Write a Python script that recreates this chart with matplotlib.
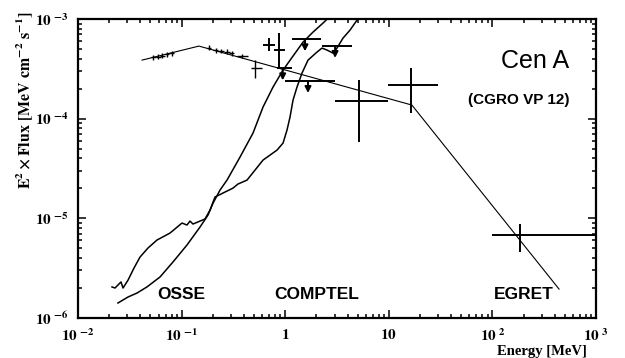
import numpy as np
import matplotlib
matplotlib.use("Agg")
import matplotlib.pyplot as plt
from matplotlib.ticker import LogLocator, FixedLocator, FixedFormatter, NullFormatter

plt.rcParams['mathtext.fontset'] = 'stix'
plt.rcParams['font.family'] = 'Liberation Serif'

# --- broken power-law model (E in MeV, E^2 F in MeV cm^-2 s^-1)
model_e = [0.0415, 0.147, 16.7, 440.0]
model_f = [3.87e-4, 5.35e-4, 1.37e-4, 1.95e-6]

# --- OSSE spectral points
osse_e    = [0.0530, 0.0592, 0.0647, 0.0723, 0.0808, 0.184, 0.215, 0.240, 0.274, 0.306, 0.383, 0.511]
osse_e_lo = [0.0501, 0.0560, 0.0612, 0.0684, 0.0764, 0.174, 0.203, 0.227, 0.259, 0.289, 0.340, 0.4625]
osse_e_hi = [0.0560, 0.0626, 0.0684, 0.0764, 0.0854, 0.194, 0.227, 0.254, 0.290, 0.323, 0.440, 0.597]
osse_f    = [4.12e-4, 4.20e-4, 4.28e-4, 4.42e-4, 4.52e-4, 5.14e-4, 4.88e-4, 4.77e-4, 4.69e-4, 4.52e-4, 4.25e-4, 3.19e-4]
osse_f_lo = [3.90e-4, 3.97e-4, 4.05e-4, 4.18e-4, 4.27e-4, 4.86e-4, 4.61e-4, 4.51e-4, 4.44e-4, 4.27e-4, 4.02e-4, 2.58e-4]
osse_f_hi = [4.36e-4, 4.44e-4, 4.53e-4, 4.68e-4, 4.78e-4, 5.44e-4, 5.16e-4, 5.04e-4, 4.96e-4, 4.78e-4, 4.50e-4, 3.87e-4]

# --- COMPTEL points
comptel_e    = [0.702, 0.877, 5.15, 16.4]
comptel_e_lo = [0.607, 0.780, 3.03, 9.89]
comptel_e_hi = [0.797, 0.996, 9.89, 30.1]
comptel_f    = [5.47e-4, 4.88e-4, 1.50e-4, 2.17e-4]
comptel_f_lo = [4.77e-4, 3.14e-4, 5.86e-5, 1.15e-4]
comptel_f_hi = [6.47e-4, 7.17e-4, 2.44e-4, 3.19e-4]

# --- COMPTEL upper limits
ul_e    = [0.946, 1.553, 3.03, 1.66]
ul_e_lo = [0.839, 1.155, 2.25, 0.996]
ul_e_hi = [1.155, 2.216, 4.38, 3.03]
ul_f    = [3.19e-4, 6.24e-4, 5.35e-4, 2.38e-4]

# --- EGRET point
egret_e, egret_e_lo, egret_e_hi = [184.5], [100.0], [1000.0]
egret_f, egret_f_lo, egret_f_hi = [6.80e-6], [4.62e-6], [8.77e-6]

# --- OSSE sensitivity curve (starts lower left)
sens1_e = [0.0243, 0.0304, 0.0371, 0.0463, 0.0619, 0.0826, 0.1127, 0.1506, 0.1799, 0.201,
           0.2348, 0.2744, 0.3664, 0.489, 0.6107, 0.7626, 0.953, 1.190, 1.486, 1.855, 2.317, 2.77]
sens1_f = [1.414e-6, 1.625e-6, 1.78e-6, 2.05e-6, 2.58e-6, 3.65e-6, 5.40e-6, 8.18e-6, 1.08e-5, 1.42e-5,
           1.92e-5, 2.42e-5, 4.12e-5, 7.17e-5, 1.307e-4, 2.075e-4, 3.07e-4, 4.25e-4, 5.86e-4, 7.39e-4, 9.10e-4, 1.09e-3]

# --- COMPTEL sensitivity curve
sens2_e = [0.02129, 0.02276, 0.0260, 0.0272, 0.0304, 0.0347, 0.0397, 0.0474, 0.0579, 0.0773,
           0.1009, 0.1127, 0.1205, 0.1288, 0.1506, 0.1682, 0.188, 0.210, 0.251, 0.3134,
           0.3503, 0.428, 0.6107, 0.834, 0.953, 1.041, 1.113, 1.190, 1.300, 1.453,
           1.661, 2.028, 2.266, 2.533, 2.894, 3.162, 3.614, 4.224, 4.934, 5.27]
sens2_f = [2.05e-6, 2.00e-6, 2.30e-6, 2.00e-6, 2.40e-6, 3.17e-6, 4.09e-6, 5.04e-6, 6.06e-6, 7.12e-6,
           8.97e-6, 8.57e-6, 9.39e-6, 8.77e-6, 9.39e-6, 9.84e-6, 1.21e-5, 1.636e-5, 1.795e-5, 2.01e-5,
           2.21e-5, 2.42e-5, 3.84e-5, 4.84e-5, 5.69e-5, 7.69e-5, 1.038e-4, 1.536e-4, 2.075e-4, 2.87e-4,
           3.87e-4, 4.66e-4, 5.11e-4, 4.88e-4, 4.55e-4, 5.11e-4, 6.43e-4, 7.74e-4, 9.75e-4, 1.07e-3]

x_ticks = [1e-2, 1e-1, 1, 10, 1e2, 1e3]
x_labels = [r'$\mathbf{10}^{\ \mathbf{-2}}$', r'$\mathbf{10}^{\ \mathbf{-1}}$', r'$\mathbf{1}$',
            r'$\mathbf{10}$', r'$\mathbf{10}^{\ \mathbf{2}}$', r'$\mathbf{10}^{\ \mathbf{3}}$']
y_ticks = [1e-6, 1e-5, 1e-4, 1e-3]
y_labels = [r'$\mathbf{10}^{\ \mathbf{-6}}$', r'$\mathbf{10}^{\ \mathbf{-5}}$',
            r'$\mathbf{10}^{\ \mathbf{-4}}$', r'$\mathbf{10}^{\ \mathbf{-3}}$']


def cross(ax, e, elo, ehi, f, flo, fhi, lw=1.3):
    e, f = np.array(e), np.array(f)
    xerr = [e - np.array(elo), np.array(ehi) - e]
    yerr = [f - np.array(flo), np.array(fhi) - f]
    ax.errorbar(e, f, xerr=xerr, yerr=yerr, fmt='none', ecolor='black',
                elinewidth=lw, capsize=0, zorder=3)


fig = plt.figure(figsize=(6.25, 3.58), dpi=100)
ax = fig.add_axes([0.1248, 0.1117, 0.8288, 0.8352])
ax.set_xscale('log')
ax.set_yscale('log')
ax.set_xlim(1e-2, 1e3)
ax.set_ylim(1e-6, 1e-3)

ax.plot(sens1_e, sens1_f, color='black', lw=1.1)
ax.plot(sens2_e, sens2_f, color='black', lw=1.1)
ax.plot(model_e, model_f, color='black', lw=0.8)

cross(ax, osse_e, osse_e_lo, osse_e_hi, osse_f, osse_f_lo, osse_f_hi, lw=1.0)
cross(ax, comptel_e, comptel_e_lo, comptel_e_hi, comptel_f, comptel_f_lo, comptel_f_hi, lw=1.4)
cross(ax, egret_e, egret_e_lo, egret_e_hi, egret_f, egret_f_lo, egret_f_hi, lw=1.4)

ax.hlines(ul_f, ul_e_lo, ul_e_hi, color='black', lw=1.4)
for e, f in zip(ul_e, ul_f):
    ax.annotate('', xy=(e, f), xytext=(0, -8.5), textcoords='offset points',
                arrowprops=dict(arrowstyle='<|-,head_length=0.35,head_width=0.18',
                                color='black', lw=1.4, shrinkA=0, shrinkB=0))

# axes styling
for s in ax.spines.values():
    s.set_linewidth(1.6)
ax.xaxis.set_major_locator(FixedLocator(x_ticks))
ax.xaxis.set_major_formatter(FixedFormatter(x_labels))
ax.yaxis.set_major_locator(FixedLocator(y_ticks))
ax.yaxis.set_major_formatter(FixedFormatter(y_labels))
ax.xaxis.set_minor_locator(LogLocator(base=10, subs=np.arange(2, 10), numticks=20))
ax.yaxis.set_minor_locator(LogLocator(base=10, subs=np.arange(2, 10), numticks=20))
ax.xaxis.set_minor_formatter(NullFormatter())
ax.yaxis.set_minor_formatter(NullFormatter())
ax.tick_params(which='both', direction='in', top=True, right=True, width=1.1)
ax.tick_params(which='major', length=6, labelsize=11, pad=7)
ax.tick_params(which='minor', length=3)

# annotations
sans = 'Liberation Sans'
ax.text(0.20, 0.078, 'OSSE', transform=ax.transAxes, ha='center', va='center',
        family=sans, fontweight='bold', fontsize=12.5)
ax.text(0.46, 0.078, 'COMPTEL', transform=ax.transAxes, ha='center', va='center',
        family=sans, fontweight='bold', fontsize=12.5)
ax.text(0.86, 0.078, 'EGRET', transform=ax.transAxes, ha='center', va='center',
        family=sans, fontweight='bold', fontsize=12.5)
ax.text(0.948, 0.86, 'Cen A', transform=ax.transAxes, ha='right', va='center',
        family=sans, fontsize=18)
ax.text(0.948, 0.73, '(CGRO VP 12)', transform=ax.transAxes, ha='right', va='center',
        family=sans, fontweight='bold', fontsize=11)

fig.text(0.939, 0.0, 'Energy [MeV]', ha='right', va='bottom',
         fontweight='bold', fontsize=10.5)
fig.text(0.04, 0.72, r'$\mathbf{E^2 \times Flux\ [MeV\ cm^{-2}\ s^{-1}]}$',
         rotation=90, ha='center', va='center', fontsize=11.5)

fig.savefig('out.png', dpi=100)
